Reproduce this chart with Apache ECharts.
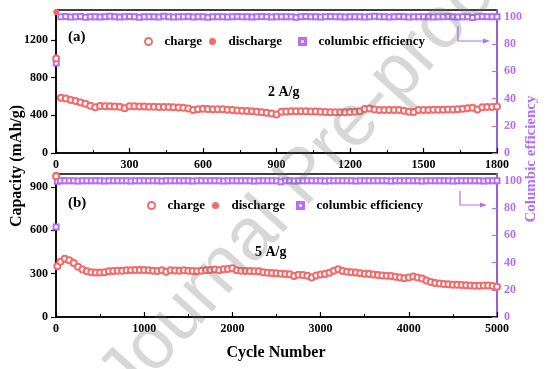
<!DOCTYPE html>
<html>
<head>
<meta charset="utf-8">
<script src="https://cdn.jsdelivr.net/npm/echarts@6/dist/echarts.min.js"></script>
<style>html,body{margin:0;padding:0;background:#fff;}#c{width:553px;height:369px;}</style>
</head>
<body>
<div id="c"></div>
<script>
// ---------- data: panel (a) 2 A/g ----------
const cyclesA = [
  1,20,40,60,80,100,120,140,160,180,
  200,220,240,260,280,300,320,340,360,380,
  400,420,440,460,480,500,520,540,560,580,
  600,620,640,660,680,700,720,740,760,780,
  800,820,840,860,880,900,920,940,960,980,
  1000,1020,1040,1060,1080,1100,1120,1140,1160,1180,
  1200,1220,1240,1260,1280,1300,1320,1340,1360,1380,
  1400,1420,1440,1460,1480,1500,1520,1540,1560,1580,
  1600,1620,1640,1660,1680,1700,1720,1740,1760,1780,
  1800
];
const dischargeA = [
  1500,588,580,565,555,540,525,505,488,502,
  500,498,497,494,478,500,499,497,496,494,
  493,492,492,490,488,485,482,475,460,468,
  472,470,468,467,466,462,458,455,452,448,
  445,440,435,430,422,410,440,442,445,446,
  447,446,444,443,441,438,436,434,435,436,
  438,440,446,470,474,465,460,458,458,460,
  458,452,440,438,458,460,460,461,462,463,
  464,465,467,472,478,484,465,488,490,492,
  495
];
const chargeA = [
  1005,586,578,563,553,538,523,503,486,500,
  498,496,495,492,476,498,497,495,494,492,
  491,490,490,488,486,483,480,473,458,466,
  470,468,466,465,464,460,456,453,450,446,
  443,438,433,428,420,408,438,440,443,444,
  445,444,442,441,439,436,434,432,433,434,
  436,438,444,468,472,463,458,456,456,458,
  456,450,438,436,456,458,458,459,460,461,
  462,463,465,470,476,482,463,486,488,490,
  493
];
const ceA = [
  66,100,100.2,99.8,100,100.3,99.6,100,100.1,99.9,
  100,100.4,100,99.8,100,100.2,100,99.7,100,100,
  100.1,99.9,100.5,100,99.8,100,100,100.2,99.9,100,
  100,99.6,100,100.1,100,99.9,100,100.3,100,100,
  99.8,100,100.2,100,99.9,100,100,100.1,100,99.7,
  100,100.2,100,100,99.9,100,100.3,100,100,99.8,
  100,100.1,100,99.9,100,100.4,100,100,99.8,100,
  100.2,100,99.9,100,100,100.1,100,99.8,100,100,
  100.3,100,99.9,100,100,99.5,100,100.2,100,100,
  100.1
];
// ---------- data: panel (b) 5 A/g ----------
const cyclesB = [
  1,15,50,100,150,200,250,300,350,400,450,
  500,550,600,650,700,750,800,850,900,950,
  1000,1050,1100,1150,1200,1250,1300,1350,1400,1450,
  1500,1550,1600,1650,1700,1750,1800,1850,1900,1950,
  2000,2050,2100,2150,2200,2250,2300,2350,2400,2450,
  2500,2550,2600,2650,2700,2750,2800,2850,2900,2950,
  3000,3050,3100,3150,3200,3250,3300,3350,3400,3450,
  3500,3550,3600,3650,3700,3750,3800,3850,3900,3950,
  4000,4050,4100,4150,4200,4250,4300,4350,4400,4450,
  4500,4550,4600,4650,4700,4750,4800,4850,4900,4950,
  5000
];
const dischargeB = [
  985,355,385,405,395,375,350,330,318,312,310,
  310,312,318,320,322,322,325,326,328,328,
  327,325,322,320,325,315,325,324,322,325,
  322,320,318,322,325,328,330,325,332,335,
  340,325,322,320,320,318,318,312,308,306,
  305,302,300,298,285,295,292,288,275,290,
  296,300,308,322,332,320,315,312,310,305,
  302,300,296,293,290,288,285,280,276,270,
  275,282,276,268,255,245,238,234,230,228,
  226,226,224,222,220,218,218,220,220,216,
  212
];
const chargeB = [
  975,352,383,403,393,373,348,328,316,310,308,
  308,310,316,318,320,320,323,324,326,326,
  325,323,320,318,323,313,323,322,320,323,
  320,318,316,320,323,326,328,323,330,333,
  338,323,320,318,318,316,316,310,306,304,
  303,300,298,296,283,293,290,286,273,288,
  294,298,306,320,330,318,313,310,308,303,
  300,298,294,291,288,286,283,278,274,268,
  273,280,274,266,253,243,236,232,228,226,
  224,224,222,220,218,216,216,218,218,214,
  210
];
const ceB = [
  66,99.6,100,100,100.1,100,99.9,100,100,100,100.1,
  100,99.9,100,100,100.1,100,100,99.9,100,100,
  100,100.1,100,100,99.9,100,100,100,100.1,100,
  100,99.9,100,100,100,100.1,100,100,99.9,100,
  100,100,100.1,100,100,99.9,100,100,100,100,
  100.1,99.3,100,100,99.9,100,100,100.1,100,100,
  100,99.9,100,100,100,100.1,100,100,99.9,100,
  100,100,100.1,100,100,100,99.9,100,100,100,
  100.1,100,100,99.9,100,100,100,100.1,100,100,
  99.9,100,100,100,100.1,100,100,99.9,100,100,
  100
];
// tick labels
const xTicksA = [0,300,600,900,1200,1500,1800];
const xTicksB = [0,1000,2000,3000,4000,5000];
const yTicksA = [0,400,800,1200];
const yTicksB = [0,300,600,900];
const ceTicks = [0,20,40,60,80,100];

const FONT = '"Liberation Serif","Times New Roman",serif';
const RED = '#f26a6a';
const PURPLE = '#b470f5';
const SQUARE_ICON = 'path://M0,0H10V10H0Z M1.8,1.8V8.2H8.2V1.8Z';

function pairs(xs, ys){ const out=[]; for(let i=0;i<xs.length;i++){ if(ys[i]!==undefined) out.push([xs[i], ys[i]]); } return out; }
const plain = v => String(v);

const labelBlack = {fontFamily:FONT, fontWeight:'bold', fontSize:12, color:'#000', formatter:plain};
const labelPurple = {fontFamily:FONT, fontWeight:'bold', fontSize:12, color:PURPLE, formatter:plain};

function xAx(grid, max, interval, ticks){
  return {gridIndex:grid, type:'value', min:0, max:max, interval:interval,
    axisLine:{show:true, onZero:false, lineStyle:{color:'#000', width:1.5}},
    axisTick:{show:true, inside:true, length:5, lineStyle:{color:'#000', width:1.2}},
    minorTick:{show:true, splitNumber:2, length:3, lineStyle:{color:'#000', width:1}},
    axisLabel:Object.assign({margin:6, customValues:ticks}, labelBlack),
    splitLine:{show:false}, minorSplitLine:{show:false}};
}
function yLeft(grid, max, interval, ticks){
  return {gridIndex:grid, type:'value', position:'left', min:0, max:max, interval:interval,
    axisLine:{show:true, onZero:false, lineStyle:{color:'#000', width:1.5}},
    axisTick:{show:true, inside:false, length:5, customValues:ticks, lineStyle:{color:'#000', width:1.2}},
    axisLabel:Object.assign({margin:8, customValues:ticks}, labelBlack),
    splitLine:{show:false}};
}
function yRight(grid, ticks){
  return {gridIndex:grid, type:'value', position:'right', min:0, max:105, interval:20,
    axisLine:{show:true, onZero:false, lineStyle:{color:PURPLE, width:1.5}},
    axisTick:{show:true, inside:true, length:5, customValues:ticks, lineStyle:{color:PURPLE, width:1.2}},
    axisLabel:Object.assign({margin:7, customValues:ticks}, labelPurple),
    splitLine:{show:false}};
}
function seriesSet(xi, yl, yr, xs, dis, chg, ce){
  return [
    {name:'discharge', type:'scatter', xAxisIndex:xi, yAxisIndex:yl, symbol:'circle', symbolSize:6,
      itemStyle:{color:RED, opacity:1}, data:pairs(xs, dis), z:3},
    {name:'charge', type:'scatter', xAxisIndex:xi, yAxisIndex:yl, symbol:'emptyCircle', symbolSize:6,
      itemStyle:{color:RED, borderColor:RED, borderWidth:1, opacity:1}, data:pairs(xs, chg), z:4},
    {name:'columbic efficiency', type:'scatter', xAxisIndex:xi, yAxisIndex:yr, symbol:'emptyRect', symbolSize:5,
      itemStyle:{color:PURPLE, borderColor:PURPLE, borderWidth:1, opacity:1}, data:pairs(xs, ce), z:3}
  ];
}
function leg(name, icon, left, top){
  return {left:left, top:top, padding:0, itemWidth:22, itemHeight:7, itemGap:0, selectedMode:false,
    textStyle:{fontFamily:FONT, fontWeight:'bold', fontSize:13, color:'#000'},
    data:[{name:name, icon:icon}]};
}
function txt(x, y, s, size, color, align, rot){
  return {type:'text', x:x, y:y, rotation:rot||0, z:50,
    style:{text:s, font:'bold '+size+'px '+FONT, fill:color||'#000',
      align:align||'left', verticalAlign:'middle', textAlign:align||'left', textVerticalAlign:'middle'}};
}

const chart = echarts.init(document.getElementById('c'), null, {renderer:'canvas'});
chart.setOption({
  animation:false,
  backgroundColor:'#fff',
  grid:[
    {left:56, top:10, width:441, height:143, show:true, borderColor:'#000', borderWidth:1.5, backgroundColor:'transparent'},
    {left:56, top:174, width:441, height:143, show:true, borderColor:'#000', borderWidth:1.5, backgroundColor:'transparent'}
  ],
  xAxis:[xAx(0, 1800, 300, xTicksA), xAx(1, 5000, 1000, xTicksB)],
  yAxis:[yLeft(0, 1520, 400, yTicksA), yRight(0, ceTicks), yLeft(1, 990, 300, yTicksB), yRight(1, ceTicks)],
  legend:[
    leg('charge','emptyCircle',144,35), leg('discharge','circle',209,35), leg('columbic efficiency',SQUARE_ICON,298,35),
    leg('charge','emptyCircle',147,199), leg('discharge','circle',212,199), leg('columbic efficiency',SQUARE_ICON,296,199)
  ],
  series:[].concat(seriesSet(0,0,1,cyclesA,dischargeA,chargeA,ceA), seriesSet(1,2,3,cyclesB,dischargeB,chargeB,ceB)),
  graphic:[
    txt(68, 37, '(a)', 15),
    txt(68, 203, '(b)', 15),
    txt(268, 92, '2 A/g', 14),
    txt(255, 252, '5 A/g', 14),
    txt(276, 353, 'Cycle Number', 16, '#000', 'center'),
    txt(17, 166, 'Capacity (mAh/g)', 16, '#000', 'center', Math.PI/2),
    txt(531, 159, 'Columbic efficiency', 15, PURPLE, 'center', Math.PI/2),
    {type:'polyline', z:50, shape:{points:[[458,26],[458,41],[484,41]]}, style:{stroke:PURPLE, lineWidth:1.2, fill:null}},
    {type:'polygon', z:50, shape:{points:[[483,38.5],[490,41],[483,43.5]]}, style:{fill:PURPLE}},
    {type:'polyline', z:50, shape:{points:[[460,191],[460,205],[481,205]]}, style:{stroke:PURPLE, lineWidth:1.2, fill:null}},
    {type:'polygon', z:50, shape:{points:[[480,202.5],[487,205],[480,207.5]]}, style:{fill:PURPLE}},
    {type:'text', x:305, y:178, rotation:48*Math.PI/180, z:100,
      style:{text:'Journal Pre-proof', font:'74px "Liberation Sans", Arial, sans-serif', fill:'rgba(110,110,110,0.28)',
        align:'center', verticalAlign:'middle', textAlign:'center', textVerticalAlign:'middle'}}
  ]
});
</script>
</body>
</html>
